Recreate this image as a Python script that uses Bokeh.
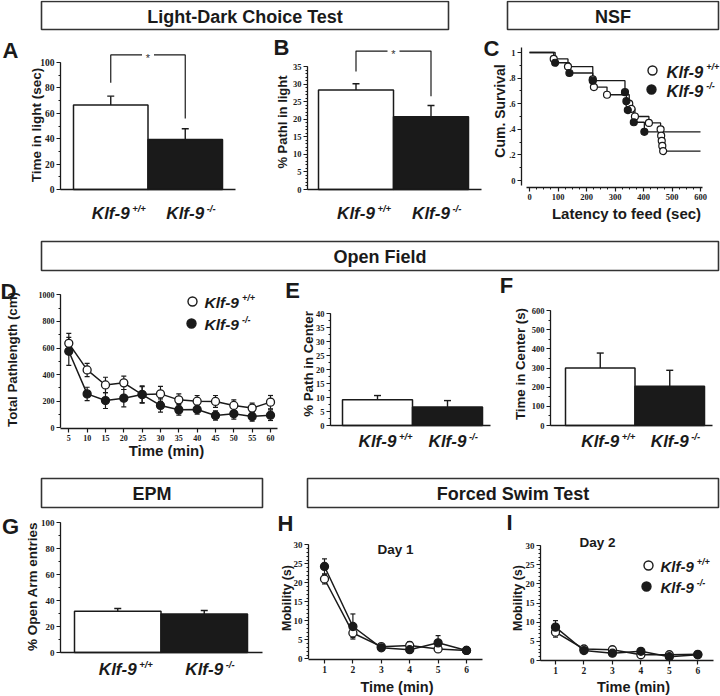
import math
from bokeh.plotting import figure
from bokeh.models import (Range1d, Whisker, TeeHead, ColumnDataSource, LinearAxis,
                          SingleIntervalTicker, FixedTicker, CustomJSTickFormatter)
from bokeh.embed import file_html
from bokeh.resources import INLINE
from bokeh.core.properties import value

# ---------------- data ----------------
GENO = "Klf-9"
GENO_SUP = ["+/+", "-/-"]

# A  Light-dark: time in light (sec)
ld_time_mean = [66.5, 39.3]
ld_time_sem = [7.0, 8.5]
# B  Light-dark: % path in light
ld_path_mean = [28.3, 20.7]
ld_path_sem = [1.8, 3.2]

# C  NSF Kaplan-Meier (event time sec, cumulative survival after event)
nsf_wt_time = [85, 135, 222, 226, 272, 350, 358, 370, 419, 460, 462, 464, 466, 469]
nsf_wt_surv = [0.95, 0.89, 0.79, 0.73, 0.67, 0.60, 0.56, 0.50, 0.45, 0.40, 0.35, 0.31, 0.27, 0.23]
nsf_ko_time = [90, 140, 222, 335, 340, 345, 366, 403]
nsf_ko_surv = [0.92, 0.84, 0.78, 0.69, 0.62, 0.55, 0.455, 0.38]
nsf_end = 600

# D  Open field: total pathlength (cm) per 5 min
of_time = [5, 10, 15, 20, 25, 30, 35, 40, 45, 50, 55, 60]
of_wt_mean = [635, 435, 322, 338, 250, 255, 210, 200, 198, 168, 148, 193]
of_wt_sem = [75, 50, 58, 50, 65, 57, 45, 43, 45, 42, 37, 50]
of_ko_mean = [575, 255, 205, 223, 250, 168, 135, 138, 93, 105, 85, 95]
of_ko_sem = [105, 50, 60, 65, 60, 50, 40, 35, 35, 40, 35, 40]
# E  % path in center
of_cpath_mean = [9.2, 6.6]
of_cpath_sem = [1.5, 2.3]
# F  time in center (s)
of_ctime_mean = [300, 205]
of_ctime_sem = [78, 83]
# G  EPM % open arm entries
epm_mean = [31.8, 29.7]
epm_sem = [2.0, 2.6]
# H / I  forced swim mobility (s)
fst_min = [1, 2, 3, 4, 5, 6]
d1_wt_mean = [21.0, 6.8, 3.2, 3.5, 2.6, 2.2]
d1_wt_sem = [1.3, 1.2, 0.5, 1.0, 0.8, 0.3]
d1_ko_mean = [24.3, 8.5, 2.9, 2.4, 4.2, 2.2]
d1_ko_sem = [2.0, 3.3, 0.5, 0.5, 1.9, 0.3]
d2_wt_mean = [7.4, 3.0, 2.8, 1.5, 1.5, 1.6]
d2_wt_sem = [1.3, 0.6, 0.6, 0.4, 0.4, 0.3]
d2_ko_mean = [8.7, 2.6, 1.9, 2.4, 1.0, 1.5]
d2_ko_sem = [1.7, 0.5, 0.4, 0.5, 0.3, 0.3]

# ---------------- canvas ----------------
W, H = 720, 696          # page pixels
RW, RH = 720, 696        # reference layout units
SC = W / RW
INK = "#1a1a1a"
FONT = "Liberation Sans"
TFONT = "Liberation Sans Narrow"

p = figure(width=W, height=H, x_range=Range1d(0, RW), y_range=Range1d(RH, 0),
           output_backend="svg", toolbar_location=None, title=None,
           x_axis_type=None, y_axis_type=None, min_border=0)
p.grid.visible = False
p.outline_line_color = None
p.background_fill_color = "white"
p.border_fill_color = "white"


def fs(v):
    return f"{v * SC:.1f}px"


def txt(x, y, s, size, style="bold", align="center", baseline="middle", angle=0.0,
        kw=None, y_offset=0, font=FONT):
    p.text(x=[x], y=[y], text=[s], text_font=value(font), text_font_style=style,
           text_font_size=value(fs(size)), text_align=align, text_baseline=baseline,
           angle=angle, text_color=INK, y_offset=y_offset, **(kw or {}))


def style_axis(ax, tick_size=8.0):
    ax.axis_line_color = INK
    ax.axis_line_width = 1.3
    ax.major_tick_line_color = INK
    ax.major_tick_line_width = 1.2
    ax.minor_tick_line_color = INK
    ax.minor_tick_line_width = 1.0
    ax.major_tick_in = 0
    ax.major_tick_out = 4
    ax.minor_tick_in = 0
    ax.minor_tick_out = 2
    ax.major_label_text_font = TFONT
    ax.major_label_text_font_style = "bold"
    ax.major_label_text_font_size = fs(tick_size)
    ax.major_label_text_color = INK
    ax.major_label_standoff = 2


class Panel:
    """A chart placed on the shared canvas through its own pair of ranges."""

    def __init__(self, name, xmap, ymap):
        pa, va, pb, vb = xmap
        qa, wa, qb, wb = ymap
        self.pa, self.va, self.kx = pa, va, (vb - va) / (pb - pa)
        self.qa, self.wa, self.ky = qa, wa, (wb - wa) / (qb - qa)
        xn, yn = name + "_x", name + "_y"
        p.extra_x_ranges[xn] = Range1d(self.fx(0), self.fx(RW))
        p.extra_y_ranges[yn] = Range1d(self.fy(RH), self.fy(0))
        self.kw = dict(x_range_name=xn, y_range_name=yn)

    def fx(self, r):
        return self.va + (r - self.pa) * self.kx

    def fy(self, r):
        return self.wa + (r - self.qa) * self.ky

    def yaxis(self, rx, bounds, ticker, tick_size=8, formatter=None):
        ax = LinearAxis(fixed_location=self.fx(rx), bounds=bounds, ticker=ticker, **self.kw)
        style_axis(ax, tick_size)
        if formatter is not None:
            ax.formatter = formatter
        p.add_layout(ax, "left")
        return ax

    def xaxis(self, ry, rx0, rx1, ticker, tick_size=8):
        ax = LinearAxis(fixed_location=self.fy(ry), bounds=(self.fx(rx0), self.fx(rx1)),
                        ticker=ticker, **self.kw)
        style_axis(ax, tick_size)
        p.add_layout(ax, "below")
        return ax


def geno_label(rcx, ry, sup, size=17, sup_size=9.5):
    w = 2.222 * size
    txt(rcx, ry, GENO, size, "bold italic", "center", "middle")
    txt(rcx + w / 2 + 2.5, ry - 5, sup, sup_size, "bold italic", "left", "middle")


def legend_entry(rcx, ry, filled, tx, sup, size=15.5, sup_size=9, msize=9):
    p.scatter([rcx], [ry], marker="circle", size=msize * SC,
              fill_color=INK if filled else "white", line_color=INK, line_width=1.4)
    w = 2.222 * size
    txt(tx, ry + 1, GENO, size, "bold italic", "left", "middle")
    txt(tx + w + 3, ry - 4, sup, sup_size, "bold italic", "left", "middle")


def bar_panel(name, bars_px, frame_x, base_px, ytop_px, ytop_val, yint, yminor, means, sems,
              tick_size=8.5, bracket=None):
    bl, br = bars_px
    c1, c2 = bl + (br - bl) / 4, bl + 3 * (br - bl) / 4
    P = Panel(name, (c1, 1, c2, 2), (base_px, 0, ytop_px, ytop_val))
    src = ColumnDataSource(dict(x=[1, 2], top=means,
                                hi=[m + s for m, s in zip(means, sems)],
                                fill=["white", INK]))
    p.add_layout(Whisker(source=src, base="x", lower="top", upper="hi", dimension="height",
                         line_color=INK, line_width=1.4, lower_head=None,
                         upper_head=TeeHead(size=7, line_color=INK, line_width=1.4), **P.kw))
    p.vbar(x="x", top="top", bottom=0, width=1.0, fill_color="fill",
           line_color=INK, line_width=1.5, source=src, **P.kw)
    P.yaxis(frame_x[0], (0, ytop_val), SingleIntervalTicker(interval=yint, num_minor_ticks=yminor),
            tick_size=tick_size)
    P.xaxis(base_px, frame_x[0], frame_x[1], FixedTicker(ticks=[]))
    if bracket is not None:
        top, lb, rb, g = bracket
        p.multi_line(xs=[[1, 1, 1.5 - g], [1.5 + g, 2, 2]], ys=[[lb, top, top], [top, top, rb]],
                     line_color=INK, line_width=1.2, **P.kw)
        p.text(x=[1.5], y=[top], text=["*"], text_font=value(FONT), text_font_size=value(fs(11)),
               text_align="center", text_baseline="middle", y_offset=3, text_color="#333333",
               **P.kw)
    return P, (c1, c2)


def line_panel(name, xmap, ymap, x, wt_m, wt_s, ko_m, ko_s, msize=8):
    P = Panel(name, xmap, ymap)
    for m, s in ((wt_m, wt_s), (ko_m, ko_s)):
        src = ColumnDataSource(dict(x=x, y=m, lo=[a - b for a, b in zip(m, s)],
                                    hi=[a + b for a, b in zip(m, s)]))
        p.add_layout(Whisker(source=src, base="x", lower="lo", upper="hi", dimension="height",
                             line_color=INK, line_width=1.2, level="underlay",
                             upper_head=TeeHead(size=5, line_color=INK, line_width=1.2),
                             lower_head=TeeHead(size=5, line_color=INK, line_width=1.2), **P.kw))
        p.line("x", "y", source=src, line_color=INK, line_width=1.5, **P.kw)
    for m, filled in ((wt_m, False), (ko_m, True)):
        p.scatter(x, m, marker="circle", size=msize * SC,
                  fill_color=INK if filled else "white", line_color=INK, line_width=1.3, **P.kw)
    return P


VERT = math.pi / 2

# ---------------- headers ----------------
headers = [(41, 448, 1, 29, "Light-Dark Choice Test"), (507, 718, 1, 29, "NSF"),
           (41, 718, 241, 270, "Open Field"),
           (41, 262, 478, 507, "EPM"), (307, 718, 478, 507, "Forced Swim Test")]
for bx0, bx1, by0, by1, t in headers:
    p.quad(left=bx0, right=bx1, top=by0, bottom=by1, fill_color="white",
           line_color="#333333", line_width=1.6)
    txt((bx0 + bx1) / 2, (by0 + by1) / 2 + 1, t, 18)

# ---------------- A ----------------
PA, cA = bar_panel("A", (73, 222), (60, 235), 189, 62, 100, 20, 2, ld_time_mean, ld_time_sem,
                   tick_size=9.5, bracket=(106, 84, 56, 0.08))
txt(36, 124.5, "Time in light (sec)", 13.5, angle=VERT)
txt(10, 50, "A", 22)
for c, s in zip(cA, GENO_SUP):
    geno_label(c, 213, s)

# ---------------- B ----------------
PB, cB = bar_panel("B", (318, 468), (307, 481), 189, 66, 35, 5, 5, ld_path_mean, ld_path_sem,
                   tick_size=8.5, bracket=(39.4, 33.6, 26.5, 0.08))
txt(282, 121.5, "% Pathl in light", 13, angle=VERT)
txt(281, 47, "B", 22)
for c, s in zip(cB, GENO_SUP):
    geno_label(c, 213, s)

# ---------------- C ----------------
PC = Panel("C", (529, 0, 700, 600), (180, 0, 52, 1))
for t, s in ((nsf_wt_time, nsf_wt_surv), (nsf_ko_time, nsf_ko_surv)):
    p.step([0] + t + [nsf_end], [1.0] + s + [s[-1]], mode="after",
           line_color=INK, line_width=1.3, **PC.kw)
for t, s, filled in ((nsf_wt_time, nsf_wt_surv, False), (nsf_ko_time, nsf_ko_surv, True)):
    p.scatter(t, s, marker="circle", size=7 * SC, fill_color=INK if filled else "white",
              line_color=INK, line_width=1.2, **PC.kw)
PC.yaxis(521, (-0.04, 1.04),
         FixedTicker(ticks=[0, 0.2, 0.4, 0.6, 0.8, 1.0], minor_ticks=[0.1, 0.3, 0.5, 0.7, 0.9]),
         tick_size=8.5,
         formatter=CustomJSTickFormatter(
             code="if (tick < 0.01) {return '0'} if (tick > 0.99) {return '1'} "
                  "return tick.toFixed(1).replace(/^0/, '')"))
PC.xaxis(187, 526, 702, SingleIntervalTicker(interval=100, num_minor_ticks=4), tick_size=8.5)
txt(499, 110.5, "Cum. Survival", 14, angle=VERT)
txt(626, 213, "Latency to feed (sec)", 15)
txt(491, 48, "C", 22)
legend_entry(652, 70, False, 666, GENO_SUP[0], size=16.5)
legend_entry(651, 89, True, 666, GENO_SUP[1], size=16.5)

# ---------------- D ----------------
PD = line_panel("D", (68.3, 5, 270, 60), (427.3, 0, 294.3, 1000),
                of_time, of_wt_mean, of_wt_sem, of_ko_mean, of_ko_sem)
PD.yaxis(60, (0, 1000), SingleIntervalTicker(interval=200, num_minor_ticks=2))
PD.xaxis(428, 60, 277, FixedTicker(ticks=of_time))
txt(12, 359, "Total Pathlength (cm)", 13.3, angle=VERT)
txt(166, 450, "Time (min)", 15)
txt(8, 291, "D", 22)
legend_entry(192, 301, False, 204, GENO_SUP[0])
legend_entry(191, 323, True, 204, GENO_SUP[1])

# ---------------- E ----------------
PE, cE = bar_panel("E", (342, 482), (330, 490), 425, 313, 40, 5, 2, of_cpath_mean, of_cpath_sem)
txt(308, 363.5, "% Path in Center", 13.3, angle=VERT)
txt(292, 290, "E", 22)
for c, s in zip(cE, GENO_SUP):
    geno_label(c, 441, s)

# ---------------- F ----------------
PF, cF = bar_panel("F", (565, 704), (550, 712), 425, 310, 600, 100, 2, of_ctime_mean, of_ctime_sem)
txt(520, 363.5, "Time in Center (s)", 13.3, angle=VERT)
txt(506, 285, "F", 22)
for c, s in zip(cF, GENO_SUP):
    geno_label(c, 441, s)

# ---------------- G ----------------
PG, cG = bar_panel("G", (74, 247), (60, 262), 652, 522, 100, 20, 2, epm_mean, epm_sem,
                   tick_size=9)
txt(32, 586, "% Open Arm entries", 13.5, angle=VERT)
txt(10, 526, "G", 22)
for c, s in zip(cG, GENO_SUP):
    geno_label(c, 669, s)

# ---------------- H / I ----------------
PH = line_panel("H", (324, 1, 466, 6), (658.3, 0, 544.3, 30),
                fst_min, d1_wt_mean, d1_wt_sem, d1_ko_mean, d1_ko_sem)
PI = line_panel("I", (555, 1, 697.3, 6), (660, 0, 545, 30),
                fst_min, d2_wt_mean, d2_wt_sem, d2_ko_mean, d2_ko_sem)
for P, fx, ax0, ax1, axy, ylab_x, tl, let, lpos, title, tpos in (
        (PH, 308, 308, 482, 659, 286, 396.5, "H", (285, 523), "Day 1", (395, 549)),
        (PI, 540, 540, 713, 660, 517.5, 633, "I", (509, 522), "Day 2", (597, 542))):
    P.yaxis(fx, (0, 30), SingleIntervalTicker(interval=5, num_minor_ticks=5), tick_size=9)
    P.xaxis(axy, ax0, ax1, FixedTicker(ticks=fst_min), tick_size=9.5)
    txt(ylab_x, 597.5, "Mobility (s)", 12.5, angle=VERT)
    txt(tl, 686.5, "Time (min)", 14.5)
    txt(lpos[0], lpos[1], let, 22)
    txt(tpos[0], tpos[1], title, 13.5)
legend_entry(648, 565, False, 660, GENO_SUP[0], size=15)
legend_entry(646, 586, True, 660, GENO_SUP[1], size=15)

open("out.html", "w").write(file_html(p, INLINE))
